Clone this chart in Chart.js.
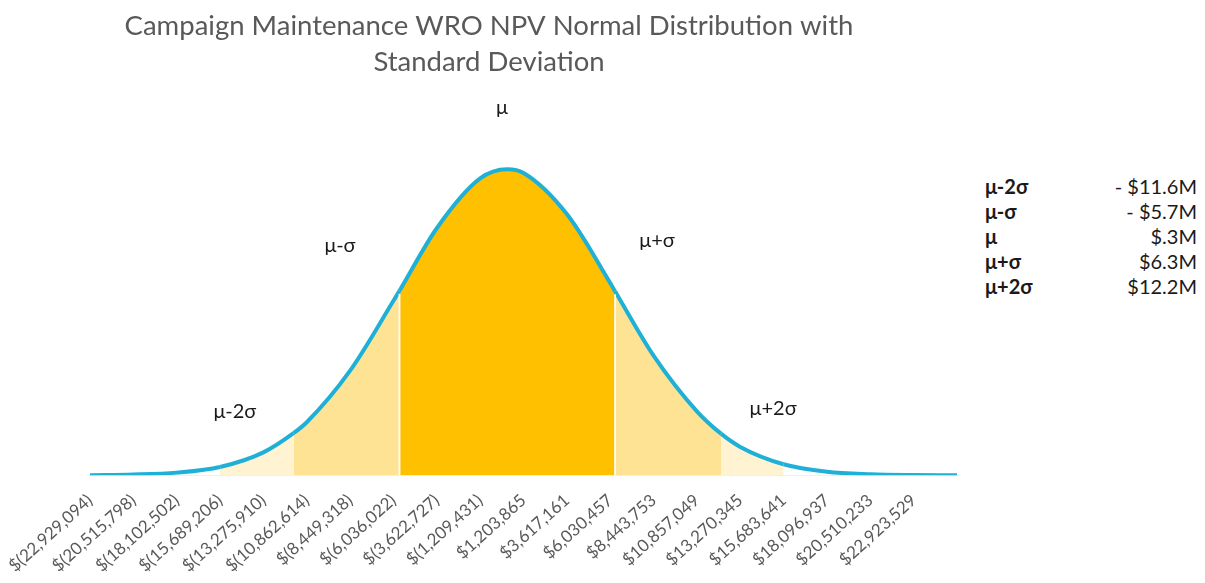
<!DOCTYPE html>
<html>
<head>
<meta charset="utf-8">
<script src="https://cdn.jsdelivr.net/npm/chart.js@4.4.0/dist/chart.umd.min.js"></script>
<style>
  html, body { margin: 0; padding: 0; background: #ffffff; }
  #wrap { position: relative; width: 1205px; height: 583px; overflow: hidden; background: #fff; }
  #c { position: absolute; left: 0; top: 0; }
  #stats { position: absolute; left: 985px; top: 174px; width: 212px;
           font-family: Lato, "Open Sans", sans-serif; font-size: 20px; color: #1a1a1a; }
  #stats .row { display: flex; justify-content: space-between; height: 25px; line-height: 25px; }
  #stats .lbl { font-weight: 700; }
</style>
</head>
<body>
<div id="wrap">
  <canvas id="c" width="978" height="583"></canvas>
  <div id="stats"></div>
</div>
<script>
// ---- Data ----
const titleLines = ["Campaign Maintenance WRO NPV Normal Distribution with", "Standard Deviation"];

const tickLabels = [
  "$(22,929,094)", "$(20,515,798)", "$(18,102,502)", "$(15,689,206)", "$(13,275,910)",
  "$(10,862,614)", "$(8,449,318)", "$(6,036,022)", "$(3,622,727)", "$(1,209,431)",
  "$1,203,865", "$3,617,161", "$6,030,457", "$8,443,753", "$10,857,049",
  "$13,270,345", "$15,683,641", "$18,096,937", "$20,510,233", "$22,923,529"
];

// NPV ($) and density (x 1e-8) of the curve
const curveX = [
  -22929094, -20515798, -18102502, -15689206, -13275910, -11600000, -10862614,
  -8449318, -6036022, -5700000, -3622727, -1209431, 300000, 1203865, 3617161,
  6030457, 6300000, 8443753, 10857049, 12200000, 13270345, 15683641, 18096937,
  20510233, 22923529, 25336825
];
const curveY = [
  0.000, 0.015, 0.057, 0.18, 0.50, 0.92, 1.16,
  2.29, 3.82, 4.04, 5.41, 6.50, 6.70, 6.62, 5.72,
  4.21, 4.03, 2.62, 1.40, 0.91, 0.62, 0.24, 0.076,
  0.022, 0.005, 0.001
];

const sigmaNames = ["μ-2σ", "μ-σ", "μ", "μ+σ", "μ+2σ"];
const sigmaText  = ["- $11.6M", "- $5.7M", "$.3M", "$6.3M", "$12.2M"];
const sigmaX     = [-11600000, -5700000, 300000, 6300000, 12200000];
const outerX     = [-15689206, 15683641];

const annoText = ["μ", "μ-σ", "μ+σ", "μ-2σ", "μ+2σ"];
const annoX    = [0, -9010000, 8640000, -14860000, 15100000];
const annoY    = [8.05, 5.02, 5.15, 1.40, 1.46];

// ---- helpers ----
const tickValues = tickLabels.map(s => {
  const n = parseFloat(s.replace(/[$,()]/g, ""));
  return s.indexOf("(") >= 0 ? -n : n;
});

const DARK = "#FFC000", LIGHT = "#FFE394", FAINT = "#FFF3D2", NONE = "rgba(255,255,255,0)";
function bandColor(x) {
  if (x >= sigmaX[1] && x <= sigmaX[3]) return DARK;
  if ((x >= sigmaX[0] && x < sigmaX[1]) || (x > sigmaX[3] && x <= sigmaX[4])) return LIGHT;
  if ((x >= outerX[0] && x < sigmaX[0]) || (x > sigmaX[4] && x <= outerX[1])) return FAINT;
  return NONE;
}

// right-hand stats table
const stats = document.getElementById("stats");
sigmaNames.forEach((n, i) => {
  const r = document.createElement("div");
  r.className = "row";
  const a = document.createElement("span"); a.className = "lbl"; a.textContent = n;
  const b = document.createElement("span"); b.textContent = sigmaText[i];
  r.appendChild(a); r.appendChild(b);
  stats.appendChild(r);
});

// thin white seams at mu-sigma / mu+sigma, then text annotations
const annoPlugin = {
  id: "anno",
  afterDatasetDraw(chart) {
    const { ctx, scales: { x, y } } = chart;
    ctx.save();
    [sigmaX[1], sigmaX[3]].forEach(v => {
      const k = curveX.indexOf(v);
      if (k < 0) return;
      const px = x.getPixelForValue(v);
      ctx.strokeStyle = "rgba(255,255,255,0.85)";
      ctx.lineWidth = 2;
      ctx.beginPath();
      ctx.moveTo(px, y.getPixelForValue(0));
      ctx.lineTo(px, y.getPixelForValue(curveY[k]) + 3);
      ctx.stroke();
    });
    ctx.restore();
  },
  afterDatasetsDraw(chart) {
    const { ctx, scales: { x, y } } = chart;
    ctx.save();
    ctx.font = "20px Lato";
    ctx.fillStyle = "#1a1a1a";
    ctx.textAlign = "center";
    ctx.textBaseline = "middle";
    annoText.forEach((t, i) => ctx.fillText(t, x.getPixelForValue(annoX[i]), y.getPixelForValue(annoY[i])));
    ctx.restore();
  }
};

new Chart(document.getElementById("c"), {
  type: "line",
  data: {
    datasets: [{
      data: curveX.map((v, i) => ({ x: v, y: curveY[i] })),
      borderColor: "#1FB0D8",
      borderWidth: 4,
      pointRadius: 0,
      cubicInterpolationMode: "monotone",
      fill: "origin",
      backgroundColor: NONE,
      segment: { backgroundColor: c => bandColor((c.p0.parsed.x + c.p1.parsed.x) / 2) }
    }]
  },
  options: {
    responsive: false,
    animation: false,
    layout: { padding: { left: 21, right: 21, top: 8, bottom: 0 } },
    plugins: {
      legend: { display: false },
      tooltip: { enabled: false },
      title: {
        display: true,
        text: titleLines,
        color: "#595959",
        font: { family: "Lato", size: 27.5, weight: "normal", lineHeight: 1.3 },
        padding: { top: 0, bottom: 30.5 }
      }
    },
    scales: {
      x: {
        type: "linear",
        min: curveX[0],
        max: curveX[curveX.length - 1],
        grid: { display: false },
        border: { display: true, color: "#EFEFEF" },
        afterBuildTicks: s => { s.ticks = tickValues.map(v => ({ value: v })); },
        ticks: {
          autoSkip: false, minRotation: 42, maxRotation: 42, padding: 7,
          color: "#595959", font: { family: "Lato", size: 17 },
          callback: (v, i) => tickLabels[i]
        }
      },
      y: {
        display: true, min: 0, max: 8,
        grid: { display: false }, border: { display: false },
        ticks: { display: false },
        afterFit: s => { s.width = 69; }
      }
    }
  },
  plugins: [annoPlugin]
});
</script>
</body>
</html>
